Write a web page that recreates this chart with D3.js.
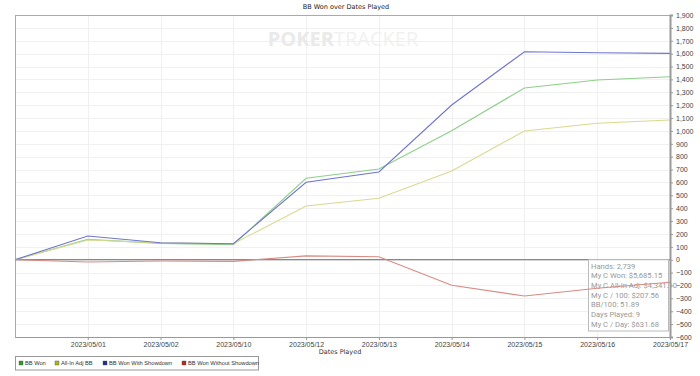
<!DOCTYPE html>
<html lang="en">
<head>
    <meta charset="UTF-8">
    <title>BB Won over Dates Played</title>
    <script src="https://cdn.jsdelivr.net/npm/d3@7/dist/d3.min.js"></script>
    <style>
        body { margin: 0; background: #fff; }
        svg { display: block; font-family: "DejaVu Sans", sans-serif; }
        .axis path { stroke: #999; }
        .axis line { stroke: #999; }
        .axis text { font-size: 7px; fill: #444; }
        .grid line { stroke: #f0f0f0; shape-rendering: crispEdges; }
    </style>
</head>
<body>
<script>
    // 日期（第一个点为起始零点）
    const dates = ['start', '2023/05/01', '2023/05/02', '2023/05/10', '2023/05/12',
        '2023/05/13', '2023/05/14', '2023/05/15', '2023/05/16', '2023/05/17'];

    const bbWon        = [0, 158, 127, 117, 632, 704, 1002, 1333, 1395, 1421];
    const allInAdjBB   = [0, 153, 132, 124, 417, 477, 689, 999, 1059, 1085];
    const wonShowdown  = [0, 184, 132, 124, 601, 681, 1201, 1615, 1607, 1602];
    const wonNoShowdown = [0, -18, -10, -13, 30, 23, -198, -282, -221, -175];

    const yTicks = d3.range(-600, 1901, 100);

    const tipLines = ['Hands: 2,739', 'My C Won: $5,685.15', 'My C All-In Adj: $4,341.10',
        'My C / 100: $207.56', 'BB/100: 51.89', 'Days Played: 9', 'My C / Day: $631.68'];

    const series = [
        {name: 'BB Won', values: bbWon, color: '#8fcf8a', key: '#2e9a2e'},
        {name: 'All-In Adj BB', values: allInAdjBB, color: '#d9d98f', key: '#b0b020'},
        {name: 'BB Won With Showdown', values: wonShowdown, color: '#6f76cf', key: '#1c2a9a'},
        {name: 'BB Won Without Showdown', values: wonNoShowdown, color: '#d98a82', key: '#b02a22'}
    ];

    const w = 700, h = 376;
    const pLeft = 15, pRight = 670, pTop = 15, pBottom = 337;

    const svg = d3.select('body').append('svg')
        .attr('width', w)
        .attr('height', h);

    const x = d3.scalePoint().domain(dates).range([pLeft, pRight]);
    const y = d3.scaleLinear().domain([-600, 1900]).range([pBottom, pTop]);

    // 网格
    const grid = svg.append('g').attr('class', 'grid');
    grid.selectAll('.h').data(yTicks).enter().append('line')
        .attr('x1', pLeft).attr('x2', pRight)
        .attr('y1', d => Math.round(y(d)) + 0.5).attr('y2', d => Math.round(y(d)) + 0.5);
    grid.selectAll('.v').data(dates.slice(1)).enter().append('line')
        .attr('x1', d => Math.round(x(d)) + 0.5).attr('x2', d => Math.round(x(d)) + 0.5)
        .attr('y1', pTop).attr('y2', pBottom);

    // 水印
    const wm = svg.append('text')
        .attr('x', 343).attr('y', 46)
        .attr('text-anchor', 'middle')
        .attr('font-family', '"Open Sans", sans-serif')
        .attr('font-size', 20);
    wm.append('tspan').attr('fill', '#eaeaea').attr('font-weight', 'bold').text('POKER');
    wm.append('tspan').attr('fill', '#f1f1f1').text('TRACKER');

    // 边框
    svg.append('rect')
        .attr('x', pLeft + 0.5).attr('y', pTop + 0.5)
        .attr('width', pRight - pLeft).attr('height', pBottom - pTop)
        .attr('fill', 'none').attr('stroke', '#aaa');

    // 零线
    svg.append('line')
        .attr('x1', pLeft).attr('x2', pRight)
        .attr('y1', y(0)).attr('y2', y(0))
        .attr('stroke', '#888').attr('stroke-width', 1.2);

    // 统计框
    const tip = svg.append('g');
    tip.append('rect')
        .attr('x', 588.5).attr('y', y(0))
        .attr('width', 80).attr('height', 331 - y(0))
        .attr('fill', '#fff').attr('stroke', '#bbb');
    tip.selectAll('text').data(tipLines).enter().append('text')
        .attr('x', 591)
        .attr('y', (d, i) => 268.5 + i * 9.7)
        .attr('font-family', 'Roboto, sans-serif')
        .attr('font-size', 7.6)
        .attr('fill', '#999')
        .text(d => d);

    // 折线
    const line = d3.line()
        .x((d, i) => x(dates[i]))
        .y(d => y(d));
    svg.selectAll('.series').data(series).enter().append('path')
        .attr('fill', 'none')
        .attr('stroke', d => d.color)
        .attr('stroke-width', 1.1)
        .attr('d', d => line(d.values));

    // 右侧纵轴
    const yAxis = d3.axisRight(y).tickValues(yTicks).tickSize(3).tickFormat(d3.format(','));
    svg.append('g')
        .attr('class', 'axis')
        .attr('transform', 'translate(' + pRight + ',0)')
        .call(yAxis)
        .call(g => g.select('.domain').attr('stroke', '#999').attr('stroke-width', 2));

    // 底部横轴
    const xAxis = d3.axisBottom(x).tickValues(dates.slice(1)).tickSize(3).tickSizeOuter(0);
    svg.append('g')
        .attr('class', 'axis')
        .attr('transform', 'translate(0,' + pBottom + ')')
        .call(xAxis)
        .call(g => g.select('.domain').attr('stroke', '#aaa'))
        .call(g => g.selectAll('text').attr('dy', '0.6em'));

    // 标题
    svg.append('text')
        .attr('x', 346).attr('y', 9)
        .attr('text-anchor', 'middle')
        .attr('font-size', 6.5).attr('fill', '#222')
        .text('BB Won over Dates Played');

    svg.append('text')
        .attr('x', 340).attr('y', 354)
        .attr('text-anchor', 'middle')
        .attr('font-size', 6.5).attr('fill', '#333')
        .text('Dates Played');

    // 图例
    const legend = svg.append('g');
    legend.append('rect')
        .attr('x', 15.5).attr('y', 356.5)
        .attr('width', 243).attr('height', 13.5)
        .attr('fill', '#fff').attr('stroke', '#999');
    const legendX = [19, 55, 103, 182];
    const items = legend.selectAll('.item').data(series).enter().append('g')
        .attr('transform', (d, i) => 'translate(' + legendX[i] + ',361)');
    items.append('rect')
        .attr('width', 4).attr('height', 4)
        .attr('fill', d => d.key).attr('stroke', '#555').attr('stroke-width', 0.4);
    items.append('text')
        .attr('x', 6).attr('y', 4.3)
        .attr('font-family', '"Liberation Sans", sans-serif')
        .attr('font-size', 5.7).attr('fill', '#333')
        .text(d => d.name);
</script>
</body>
</html>
